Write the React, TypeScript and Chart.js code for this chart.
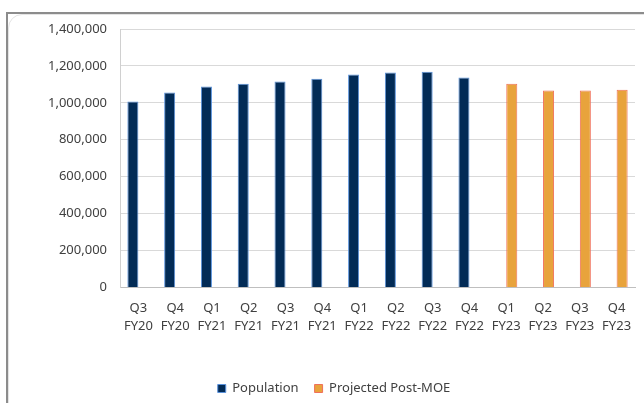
import React, { useEffect, useRef } from "react";
import { Chart, registerables } from "chart.js";

Chart.register(...registerables);

const quarters = ["Q3", "Q4", "Q1", "Q2", "Q3", "Q4", "Q1", "Q2", "Q3", "Q4", "Q1", "Q2", "Q3", "Q4"];
const fiscalYears = ["FY20", "FY20", "FY21", "FY21", "FY21", "FY21", "FY22", "FY22", "FY22", "FY22", "FY23", "FY23", "FY23", "FY23"];
const population = [1008000, 1056000, 1089000, 1103000, 1116000, 1130000, 1154000, 1165000, 1168000, 1138000, null, null, null, null];
const projected = [null, null, null, null, null, null, null, null, null, null, 1103000, 1067000, 1067000, 1071000];
const yTicks = [0, 200000, 400000, 600000, 800000, 1000000, 1200000, 1400000];

const FONT = "'Noto Sans', 'Open Sans', sans-serif";
const TEXT = "#404040";

export default function App() {
  const ref = useRef<HTMLCanvasElement | null>(null);

  useEffect(() => {
    document.body.style.margin = "0";
    const canvas = ref.current;
    if (!canvas) return;
    const labels = quarters.map((q, i) => [q, fiscalYears[i]]);
    const chart = new Chart(canvas, {
      type: "bar",
      data: {
        labels,
        datasets: [
          {
            label: "Population",
            data: population,
            backgroundColor: "#022B56",
            borderColor: "#5A92DC",
            borderWidth: 1,
          },
          {
            label: "Projected Post-MOE",
            data: projected,
            backgroundColor: "#E8A33C",
            borderColor: "#F0705A",
            borderWidth: 1,
          },
        ],
      },
      options: {
        responsive: false,
        animation: false,
        devicePixelRatio: 1,
        layout: { padding: { left: 33, right: 9, top: 29, bottom: 0 } },
        datasets: { bar: { categoryPercentage: 0.6, barPercentage: 1.0 } },
        plugins: {
          tooltip: { enabled: false },
          legend: {
            position: "bottom",
            labels: {
              boxWidth: 8,
              boxHeight: 8,
              padding: 16,
              color: TEXT,
              font: { family: FONT, size: 13 },
            },
          },
        },
        scales: {
          x: {
            grid: { display: false },
            border: { display: true, color: "#bfbfbf", width: 1 },
            ticks: {
              color: TEXT,
              font: { family: FONT, size: 13, lineHeight: 1.45 },
              padding: 3,
              maxRotation: 0,
              autoSkip: false,
            },
            afterFit: (scale: any) => {
              scale.height = 78.5;
            },
          },
          y: {
            min: 0,
            max: 1400000,
            afterBuildTicks: (scale: any) => {
              scale.ticks = yTicks.map((v) => ({ value: v }));
            },
            grid: { color: "#d9d9d9", drawTicks: false },
            border: { display: true, color: "#d0d0d0", width: 1 },
            ticks: {
              color: TEXT,
              font: { family: FONT, size: 13 },
              padding: 13,
              callback: (v: any) => Number(v).toLocaleString("en-US"),
            },
            afterFit: (scale: any) => {
              scale.width = 87;
            },
          },
        },
      },
    });
    return () => chart.destroy();
  }, []);

  return (
    <div style={{ position: "relative", width: 644, height: 403, overflow: "hidden", background: "#fff" }}>
      <div
        style={{
          position: "absolute",
          left: 6,
          top: 12,
          width: 700,
          height: 500,
          borderLeft: "2px solid #8c8c8c",
          borderTop: "2px solid #8c8c8c",
        }}
      />
      <div
        style={{
          position: "absolute",
          left: 8,
          top: 14,
          width: 700,
          height: 500,
          border: "1px solid #e4e4e4",
          borderTopLeftRadius: 14,
        }}
      />
      <canvas ref={ref} width={644} height={405} style={{ position: "absolute", left: 0, top: 0 }} />
    </div>
  );
}
